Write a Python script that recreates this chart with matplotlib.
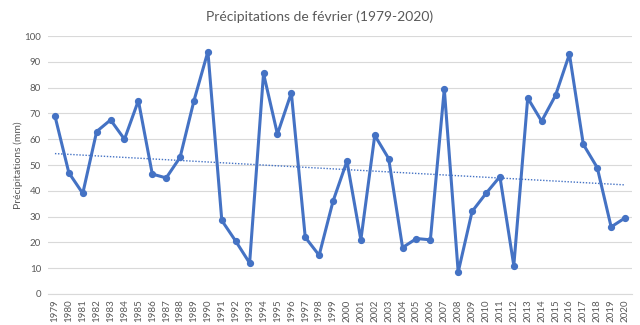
import numpy as np
import matplotlib.pyplot as plt

plt.rcParams["font.family"] = ["Lato", "DejaVu Sans"]

years = list(range(1979, 2021))
precip = [69, 47, 39, 63, 67.5, 60, 75, 46.5, 45, 53,
          75, 94, 28.5, 20.5, 12, 85.5, 62, 78, 22, 15,
          36, 51.5, 21, 61.5, 52.5, 18, 21.5, 21, 79.5, 8.5,
          32, 39, 45.5, 11, 76, 67, 77, 93, 58, 49,
          26, 29.5]
y_ticks = [0, 10, 20, 30, 40, 50, 60, 70, 80, 90, 100]

blue = "#4472C4"
grey_text = "#595959"
grid_col = "#D9D9D9"

fig = plt.figure(figsize=(6.4, 3.25), dpi=100)
ax = fig.add_axes([0.075, 0.0954, 0.9125, 0.7936])

x = np.arange(len(years))
ax.plot(x, precip, color=blue, lw=2.2, marker="o", ms=4.2, zorder=3)

# linear trend line
coef = np.polyfit(x, precip, 1)
ax.plot(x, np.polyval(coef, x), color=blue, lw=1.0, ls=(0, (1, 1.2)), zorder=2)

ax.set_xlim(-0.5, len(years) - 0.5)
ax.set_ylim(0, 100)
ax.set_yticks(y_ticks)
ax.set_xticks(x)
ax.set_xticklabels([str(y) for y in years], rotation=90)
ax.tick_params(axis="both", length=0, colors=grey_text, labelsize=7)
ax.tick_params(axis="y", pad=5)
ax.tick_params(axis="x", pad=4)
ax.grid(axis="y", color=grid_col, lw=0.8)
ax.set_axisbelow(True)
for s in ["top", "right", "left"]:
    ax.spines[s].set_visible(False)
ax.spines["bottom"].set_color(grid_col)
ax.spines["bottom"].set_linewidth(0.8)

ax.set_ylabel("Précipitations (mm)", color=grey_text, fontsize=7.5, labelpad=1)
fig.text(0.5, 0.948, "Précipitations de février (1979-2020)", ha="center", va="center",
         color=grey_text, fontsize=10)

fig.savefig("out.png", dpi=100)
